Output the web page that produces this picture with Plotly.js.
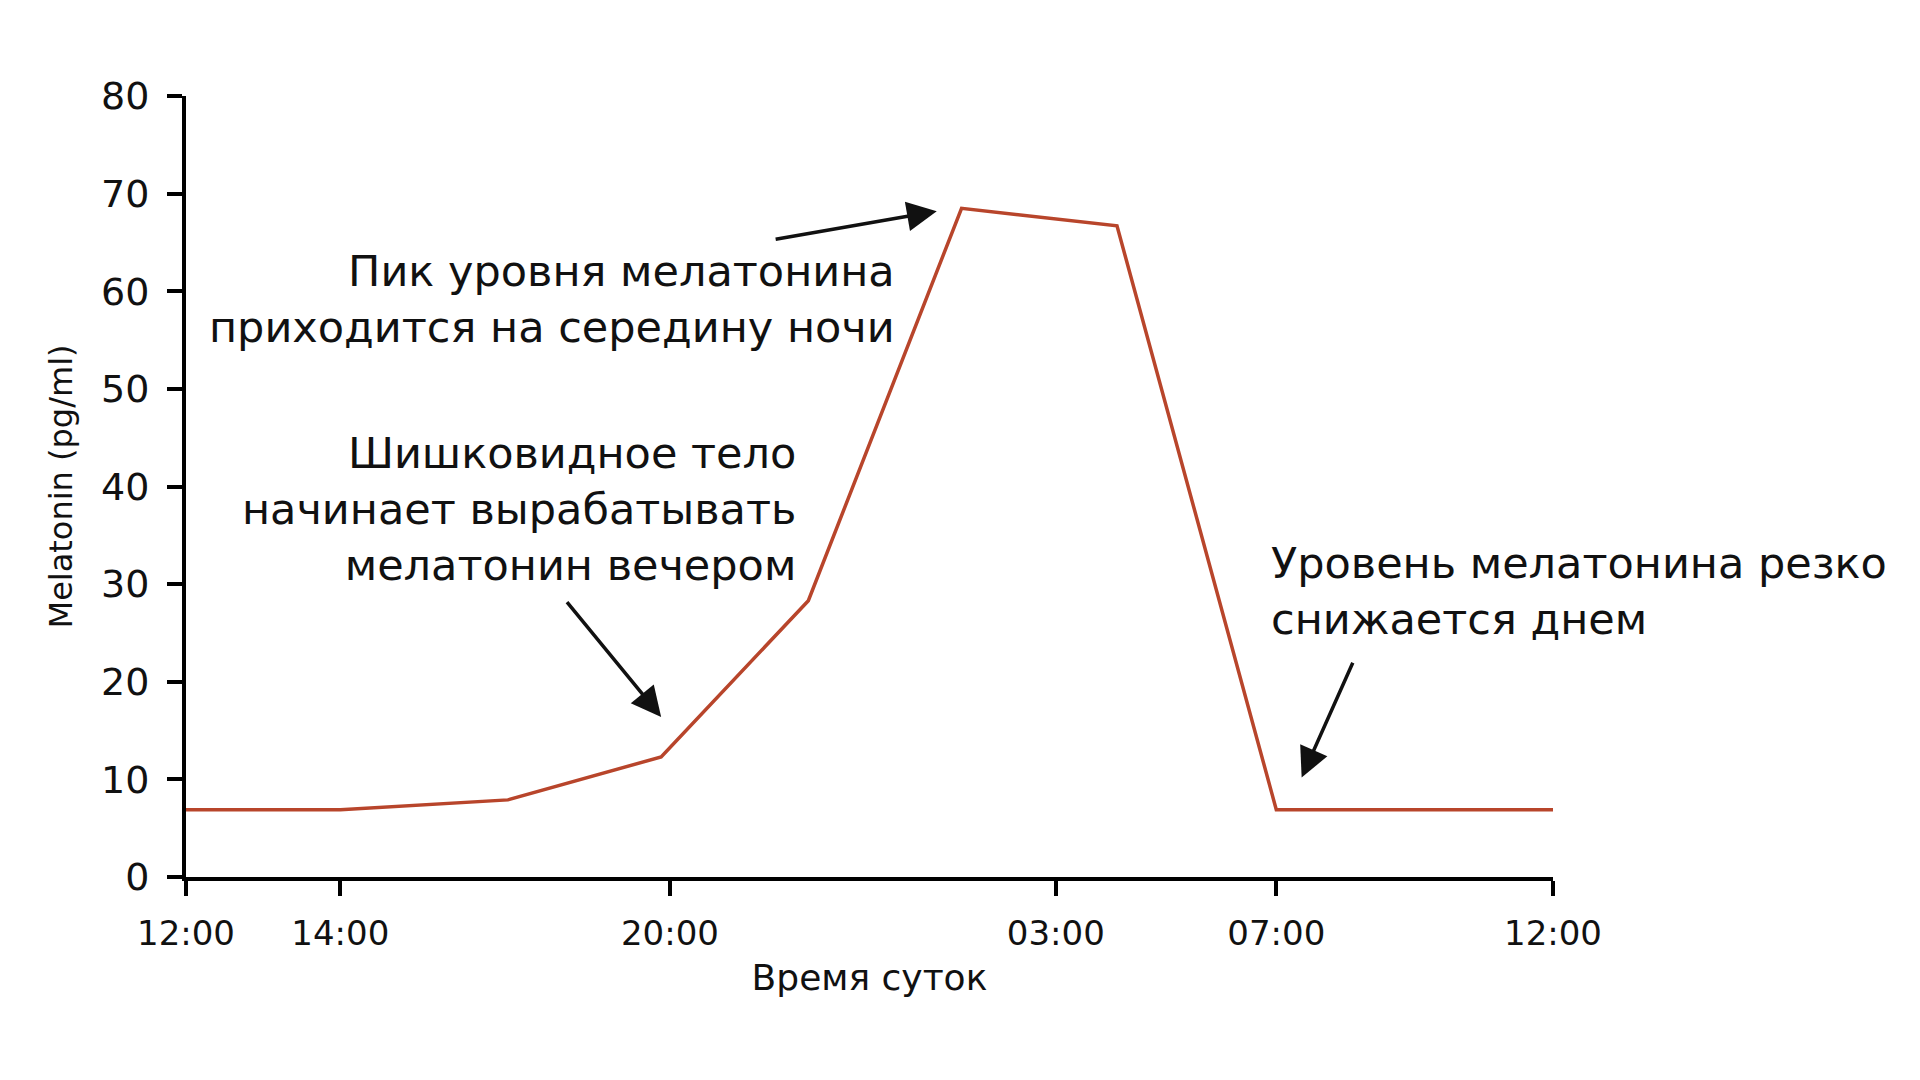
<!DOCTYPE html>
<html>
<head>
<meta charset="utf-8">
<script src="https://cdn.plot.ly/plotly-3.0.1.min.js"></script>
<style>
  html, body { margin: 0; padding: 0; background: #fff; }
  #chart { width: 1920px; height: 1080px; }
</style>
</head>
<body>
<div id="chart"></div>
<script>
// time axis position (hours-ish from 12:00, as spaced in the picture) and level
const timePos = [0, 2.8, 5.84, 8.62, 11.29, 14.07, 16.89, 19.78, 24.8];
const melatonin = [6.9, 6.9, 7.9, 12.3, 28.3, 68.5, 66.7, 6.9, 6.9];

const tickPos = [0, 2.8, 8.78, 15.78, 19.78, 24.8];
const tickLabels = ["12:00", "14:00", "20:00", "03:00", "07:00", "12:00"];

const notes = [
  "Пик уровня мелатонина<br>приходится на середину ночи",
  "Шишковидное тело<br>начинает вырабатывать<br>мелатонин вечером",
  "Уровень мелатонина резко<br>снижается днем"
];

const ink = "#111";
const font = "DejaVu Sans, Verdana, sans-serif";

const traces = [
  {
    x: timePos,
    y: melatonin,
    mode: "lines",
    line: { color: "#b8452b", width: 3.5 },
    hoverinfo: "skip",
    showlegend: false
  }
];

function arrow(x, y, ax, ay) {
  return {
    x: x, y: y, ax: ax, ay: ay,
    xref: "x", yref: "y", axref: "x", ayref: "y",
    text: "",
    showarrow: true,
    arrowhead: 2,
    arrowsize: 1.7,
    arrowwidth: 3.5,
    arrowcolor: ink,
    standoff: 0
  };
}

const layout = {
  width: 1920,
  height: 1080,
  paper_bgcolor: "#fff",
  plot_bgcolor: "#fff",
  margin: { l: 186, r: 367, t: 96, b: 203, pad: 0 },
  font: { family: font, color: ink },
  showlegend: false,
  xaxis: {
    range: [0, 24.8],
    tickmode: "array",
    tickvals: tickPos,
    ticktext: tickLabels,
    ticks: "outside",
    ticklen: 15,
    tickwidth: 4,
    tickcolor: "#000",
    showline: true,
    linewidth: 4,
    linecolor: "#000",
    showgrid: false,
    zeroline: false,
    tickfont: { size: 34, color: ink },
    ticklabelstandoff: 8,
    title: { text: "Время суток", font: { size: 36, color: ink }, standoff: 14 }
  },
  yaxis: {
    range: [0, 80],
    tickmode: "array",
    tickvals: [0, 10, 20, 30, 40, 50, 60, 70, 80],
    ticks: "outside",
    ticklen: 15,
    tickwidth: 4,
    tickcolor: "#000",
    showline: true,
    linewidth: 4,
    linecolor: "#000",
    showgrid: false,
    zeroline: false,
    tickfont: { size: 38, color: ink },
    ticklabelstandoff: 10,
    title: { text: "Melatonin (pg/ml)", font: { size: 32, color: ink }, standoff: 20 }
  },
  annotations: [
    {
      x: 12.89, y: 59.2, xref: "x", yref: "y",
      text: notes[0], showarrow: false,
      xanchor: "right", yanchor: "middle", align: "right",
      font: { size: 43, color: ink }
    },
    {
      x: 11.11, y: 37.7, xref: "x", yref: "y",
      text: notes[1], showarrow: false,
      xanchor: "right", yanchor: "middle", align: "right",
      font: { size: 43, color: ink }
    },
    {
      x: 19.64, y: 29.3, xref: "x", yref: "y",
      text: notes[2], showarrow: false,
      xanchor: "left", yanchor: "middle", align: "left",
      font: { size: 43, color: ink }
    },
    arrow(13.62, 68.2, 10.67, 65.3),
    arrow(8.62, 16.4, 6.89, 28.3),
    arrow(20.24, 10.2, 21.18, 22.1)
  ]
};

Plotly.newPlot("chart", traces, layout, { displayModeBar: false, staticPlot: true });
</script>
</body>
</html>
